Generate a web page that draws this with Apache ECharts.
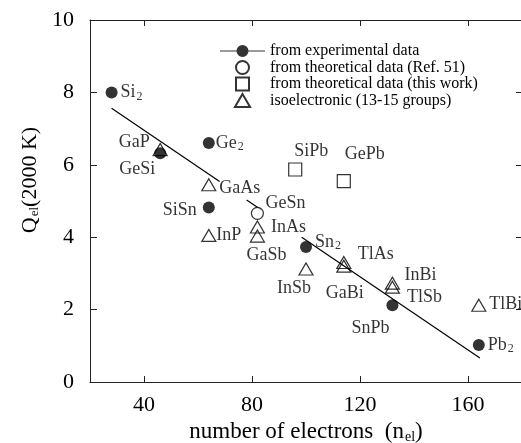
<!DOCTYPE html>
<html><head><meta charset="utf-8">
<script src="https://cdn.jsdelivr.net/npm/echarts@6/dist/echarts.min.js"></script>
<style>html,body{margin:0;padding:0;background:#fff}#c{width:521px;height:443px}</style>
</head><body><div id="c"></div>
<script>
// ---- data ----
const xTickValues = [40, 80, 120, 160];

const expNames = ['Si2', 'GeSi', 'Ge2', 'SiSn', 'Sn2', 'SnPb', 'Pb2'];
const expX = [28, 46, 64, 64, 100, 132, 164];
const expY = [8.0, 6.32, 6.6, 4.82, 3.73, 2.12, 1.02];

const refNames = ['GeSn'];
const refX = [82];
const refY = [4.66];

const workNames = ['SiPb', 'GePb'];
const workX = [96, 114];
const workY = [5.87, 5.55];

const isoNames = ['GaP', 'GaAs', 'InP', 'InAs', 'GaSb', 'InSb', 'TlAs', 'GaBi', 'InBi', 'TlSb', 'TlBi'];
const isoX = [46, 64, 64, 82, 82, 100, 114, 114, 132, 132, 164];
const isoY = [6.42, 5.45, 4.05, 4.28, 4.03, 3.12, 3.3, 3.2, 2.73, 2.62, 2.12];

// fitted line, drawn as three visible pieces
const fit1X = [28, 68];      const fit1Y = [7.56, 5.54];
const fit2X = [78, 83.5];    const fit2Y = [5.03, 4.75];
const fit3X = [98.4, 164.4]; const fit3Y = [4.0, 0.66];

const legendNames = ['from experimental data', 'from theoretical data (Ref. 51)',
  'from theoretical data (this work)', 'isoelectronic (13-15 groups)'];

// ---- label placement (style) ----
const labelOffset = {
  Si2: [20, 0], GeSi: [-23, 16], Ge2: [21, 0], SiSn: [-29, 3], Sn2: [22, -5], SnPb: [-22, 23], Pb2: [22, 0],
  GeSn: [28, -10], SiPb: [16, -18], GePb: [21, -27],
  GaP: [-26, -7], GaAs: [31, 4], InP: [20, 0], InAs: [31, 0], GaSb: [9, 19], InSb: [-12, 19],
  TlAs: [32, -8], GaBi: [1, 27], InBi: [28, -8], TlSb: [32, 10], TlBi: [27, -1]
};

const FONT = 'Liberation Serif';
const INK = '#000';
const fmtName = n => n.replace(/(\d)$/, '{s|$1}');
const subRich = { s: { fontSize: 12, fontFamily: FONT, color: INK, padding: [8, 0, 0, 1] } };

function pts(names, xs, ys) {
  return names.map((n, i) => ({
    name: n, value: [xs[i], ys[i]],
    label: { offset: labelOffset[n] || [0, 0] }
  }));
}
function line(xs, ys) { return xs.map((x, i) => [x, ys[i]]); }

const labelCommon = {
  show: true, position: 'inside', formatter: p => fmtName(p.name),
  fontFamily: FONT, fontSize: 18, color: INK, rich: subRich
};

const fitCommon = {
  type: 'line', name: 'fit', showSymbol: false, symbol: 'none',
  lineStyle: { color: '#000', width: 1.2 },
  silent: true, z: 1, animation: false
};

const iconLineDot = 'path://M0,5.9L16.6,5.9L16.6,7.1L0,7.1Z M28.4,5.9L45,5.9L45,7.1L28.4,7.1Z ' +
  'M16.5,6.5A6,6 0 1 1 28.5,6.5A6,6 0 1 1 16.5,6.5Z';
const iconSquare = 'path://M0,0L10,0L10,10L0,10Z';
const iconTriangle = 'path://M7,0L14,12L0,12Z';

const chart = echarts.init(document.getElementById('c'), null, { renderer: 'canvas' });
chart.setOption({
  animation: false,
  backgroundColor: '#fff',
  grid: { left: 90, top: 20, width: 432, height: 362, containLabel: false, outerBoundsMode: 'none' },
  legend: {
    data: [
      { name: legendNames[0], icon: iconLineDot },
      { name: legendNames[1], icon: 'circle' },
      { name: legendNames[2], icon: iconSquare },
      { name: legendNames[3], icon: iconTriangle }
    ],
    orient: 'vertical', left: 215, top: 38, padding: 5,
    itemWidth: 45, itemHeight: 13, itemGap: 0.5, itemTextGap: 4,
    symbolKeepAspect: true, selectedMode: false,
    textStyle: { fontFamily: FONT, fontSize: 16, color: INK, lineHeight: 16 }
  },
  xAxis: [{
    type: 'value', min: 20, max: 180, position: 'bottom',
    axisLine: { onZero: false, lineStyle: { color: '#222', width: 1 } },
    axisTick: { inside: true, length: 6, customValues: xTickValues, lineStyle: { color: '#222' } },
    axisLabel: { customValues: xTickValues, fontFamily: FONT, fontSize: 22, color: INK, margin: 12 },
    splitLine: { show: false },
    name: 'number of electrons  (n{s|el})', nameLocation: 'middle', nameGap: 34,
    nameTextStyle: { fontFamily: FONT, fontSize: 23, color: INK,
      rich: { s: { fontSize: 14, fontFamily: FONT, color: INK, padding: [9, 0, 0, 1] } } }
  }, {
    type: 'value', min: 20, max: 180, position: 'top',
    axisLine: { show: true, onZero: false, lineStyle: { color: '#222', width: 1 } },
    axisTick: { show: true, inside: true, length: 6, customValues: xTickValues, lineStyle: { color: '#222' } },
    axisLabel: { show: false }, splitLine: { show: false }
  }],
  yAxis: [{
    type: 'value', min: 0, max: 10, interval: 2, position: 'left',
    axisLine: { show: true, onZero: false, lineStyle: { color: '#222', width: 1 } },
    axisTick: { show: true, inside: true, length: 7, lineStyle: { color: '#222' } },
    axisLabel: { fontFamily: FONT, fontSize: 22, color: INK, margin: 16 },
    splitLine: { show: false },
    name: 'Q{s|el}(2000 K)', nameLocation: 'middle', nameGap: 48,
    nameTextStyle: { fontFamily: FONT, fontSize: 22, color: INK, padding: [0, 0, 0, 42],
      rich: { s: { fontSize: 13, fontFamily: FONT, color: INK, padding: [9, 0, 0, 1] } } }
  }, {
    type: 'value', min: 0, max: 10, interval: 2, position: 'right',
    axisLine: { show: true, onZero: false, lineStyle: { color: '#222', width: 1 } },
    axisTick: { show: true, inside: true, length: 6, lineStyle: { color: '#222' } },
    axisLabel: { show: false }, splitLine: { show: false }
  }],
  series: [
    Object.assign({}, fitCommon, { data: line(fit1X, fit1Y) }),
    Object.assign({}, fitCommon, { data: line(fit2X, fit2Y) }),
    Object.assign({}, fitCommon, { data: line(fit3X, fit3Y) }),
    {
      type: 'scatter', name: legendNames[0], symbol: 'circle', symbolSize: 12, z: 3,
      itemStyle: { color: '#000' }, label: labelCommon,
      data: pts(expNames, expX, expY)
    },
    {
      type: 'scatter', name: legendNames[1], symbol: 'circle', symbolSize: 12, z: 3,
      itemStyle: { color: '#fff', borderColor: '#000', borderWidth: 1.2 },
      label: labelCommon, data: pts(refNames, refX, refY)
    },
    {
      type: 'scatter', name: legendNames[2], symbol: 'rect', symbolSize: 13, z: 3,
      itemStyle: { color: '#fff', borderColor: '#000', borderWidth: 1.2 },
      label: labelCommon, data: pts(workNames, workX, workY)
    },
    {
      type: 'scatter', name: legendNames[3], symbol: 'triangle', symbolSize: [14, 12], z: 4,
      itemStyle: { color: 'rgba(255,255,255,0)', borderColor: '#000', borderWidth: 1.2 },
      label: labelCommon, data: pts(isoNames, isoX, isoY)
    }
  ]
});
</script>
</body></html>
